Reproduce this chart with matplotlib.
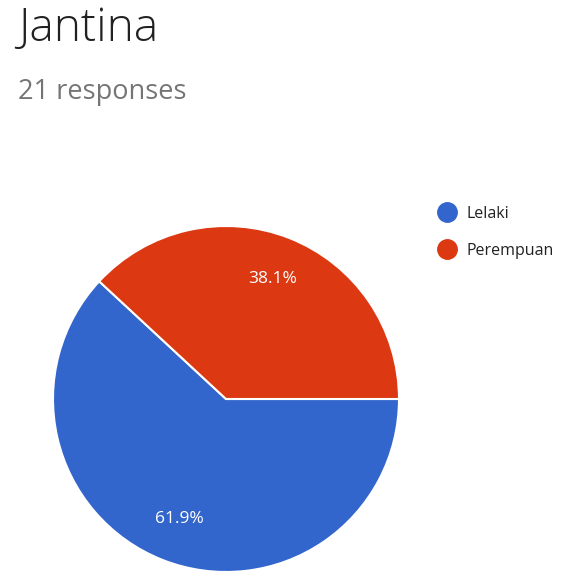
import matplotlib
matplotlib.use("Agg")
import matplotlib.pyplot as plt
from matplotlib.lines import Line2D

title = "Jantina"
subtitle = "21 responses"
categories = ["Lelaki", "Perempuan"]
counts = [13, 8]
colors = ["#3366cc", "#dc3912"]

W, H = 561, 571
fig = plt.figure(figsize=(W / 100, H / 100), dpi=100)
fig.patch.set_facecolor("white")

ax = fig.add_axes([0, 0, 1, 1])

cx, cy, r = 226, H - 399, 173
wedges, texts, autotexts = ax.pie(
    counts,
    colors=colors,
    startangle=0,
    counterclock=False,
    center=(cx, cy),
    radius=r,
    autopct="%.1f%%",
    pctdistance=0.745,
    wedgeprops=dict(edgecolor="white", linewidth=1.5),
    textprops=dict(color="white", fontsize=12.5,
                   family=["Open Sans", "DejaVu Sans"]),
    frame=True,
)
ax.set_xlim(0, W)
ax.set_ylim(0, H)
ax.set_aspect("equal")
ax.axis("off")

fig.text(18 / W, 1 - 41 / H, title, fontsize=33, color="#212121",
         family=["Open Sans", "DejaVu Sans"], fontweight="light",
         va="baseline", ha="left")
fig.text(18 / W, 1 - 99 / H, subtitle, fontsize=19.5, color="#757575",
         family=["Open Sans", "DejaVu Sans"], va="baseline", ha="left")

handles = [Line2D([0], [0], marker="o", linestyle="none", markersize=14,
                  markerfacecolor=c, markeredgecolor=c) for c in colors]
ax.legend(handles, categories, loc="upper left",
          bbox_to_anchor=(431 / W, 1 - 206 / H), bbox_transform=fig.transFigure,
          frameon=False, handletextpad=0.25, labelspacing=1.3,
          prop=dict(family=["Open Sans", "DejaVu Sans"], size=11.5),
          labelcolor="#222222", borderaxespad=0, borderpad=0)

fig.savefig("out.png", dpi=100, facecolor="white")
